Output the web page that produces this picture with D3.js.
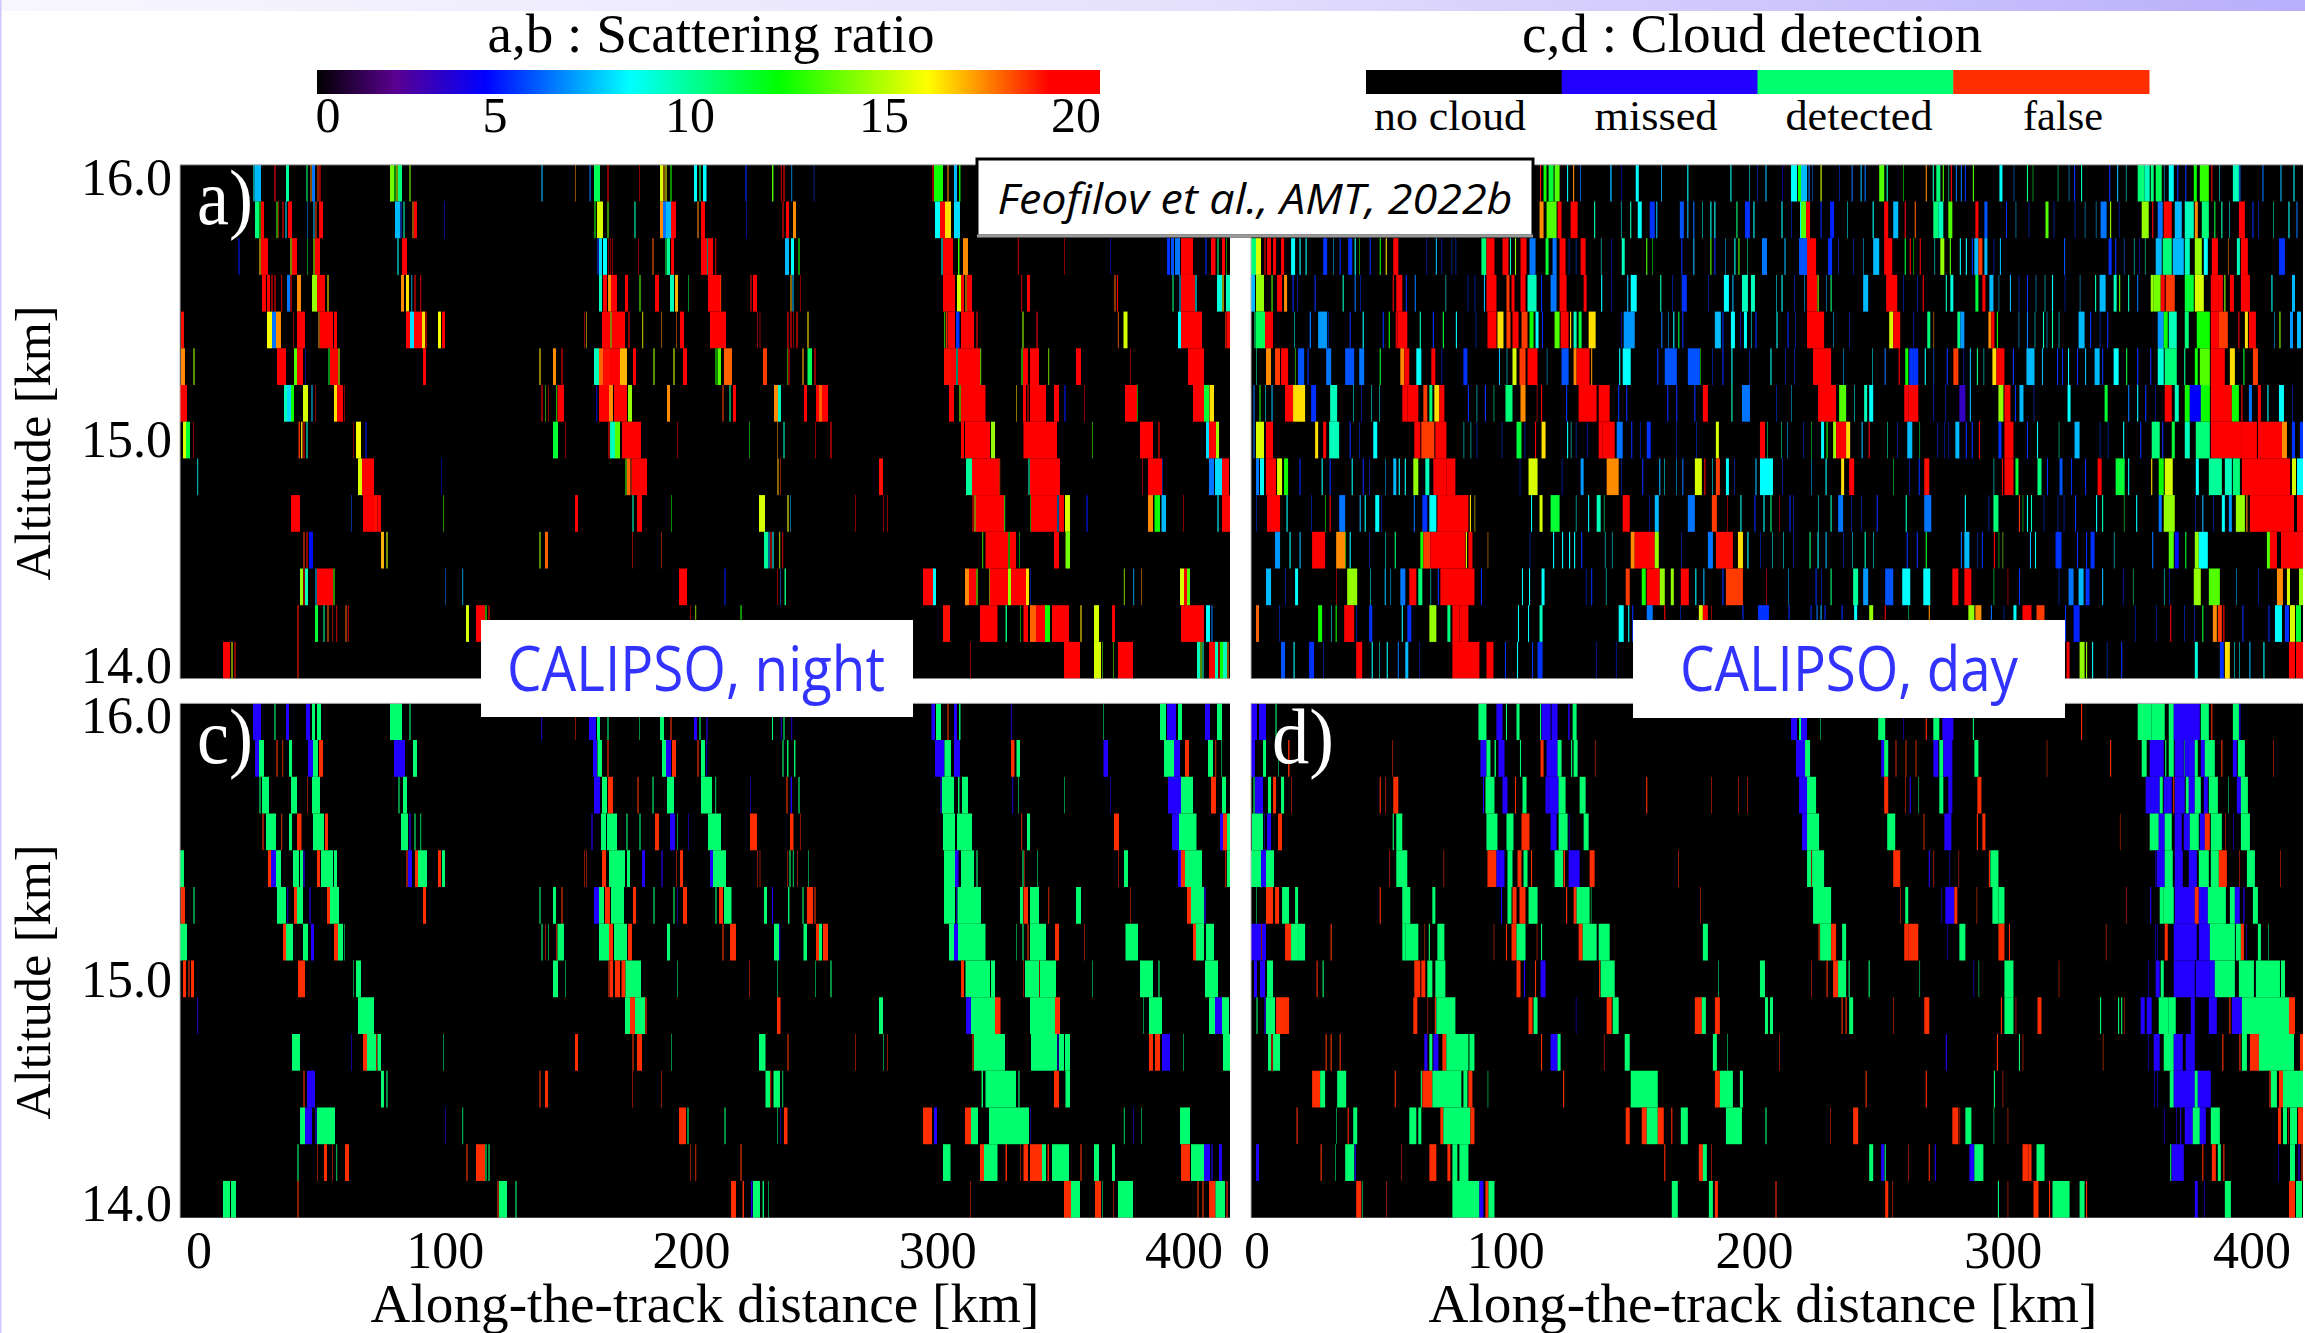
<!DOCTYPE html>
<html>
<head>
<meta charset="utf-8">
<script src="https://cdn.jsdelivr.net/npm/d3@7"></script>
<style>
  html, body { margin: 0; padding: 0; background: white; }
  svg { display: block; }
  text { font-family: "Liberation Serif", serif; fill: black; }
</style>
</head>
<body>
<svg id="chart"></svg>
<script>
const [WIDTH, HEIGHT] = [2305, 1333]

// each panel: 14 altitude rows (top = highest), each row a list of [fromProfile, toProfile, value]
// a,b values are scattering ratio, c,d values index detectionLabels
const panelA = [
  [[73,75,8],[75,81,7],[94,96,20],[106,109,9.5],[126,128,10],[130,132,17],[132,135,6],[137,139,18],[139,141,20],[210,214,13.5],[214,216,12],[216,218,15],[218,222,10],[229,231,13.5],[361,363,7],[395,396,17],[409,411,6],[414,420,10.5],[427,429,20],[459,460,20],[480,483,15],[483,485,17],[485,487,15],[490,492,12],[514,517,8],[519,521,10],[523,526.5,8],[565,567,5],[591.5,594,13],[600.5,602,20],[603,605,20],[611,612.5,6.5],[633.5,634.5,5],[752,754,20],[754,763,12],[767,769,17],[774,777,7],[778.5,781,12]],
  [[75,79,10],[79,81,12],[81,84,20],[96,98,13],[98,99,18],[102,104,20],[105,107,7.5],[108,112,20],[127,128,6],[133,135,7],[135,137,18],[139,143,20],[215,220,7],[220,222,5.5],[223,225,9],[232,234,17],[234,237,20],[264,265,4.5],[414,416,12],[417,423,15],[427,429,13],[454,456,9],[480,483,17],[483,486,6],[486,491,7],[491,496,20],[517,519,17],[521,525,20],[566,567,4.5],[602,604,20],[606,609,20],[613,616,17],[755,760,8],[760,765,19],[765,771,16],[774,780,7.5]],
  [[58,60,4.5],[79,81,16],[81,88,20],[110,112,15],[112,117,20],[127,128,11],[133,135,14],[135,140,19],[217,219,8],[222,227,20],[417,419,5],[419,422,7.5],[423,427,8],[428,429,20],[430,431,20],[432,433,20],[458,459,20],[472,474,17.5],[485,487,10.5],[487,490,9.5],[491,494,20],[521,527,20],[527,528,9],[528,533,20],[535,536.5,20],[605,609,7],[611,614,8],[618,620,12],[761,763,8],[763,773,20],[777.5,780,13],[783,788,17],[837.5,839,20],[884,885,20],[930,931,4.5],[987,990,5],[991,994,5.5],[995,1000,6],[1001,1013,20],[1025,1027,5],[1031,1035.5,20],[1037,1039,10],[1042,1045,19],[1046,1047,12]],
  [[82,86,20],[87,90,20],[91,93,20],[94,96,20],[101,102.5,20],[107,110,6],[110,112,20],[117,121,17],[132,137,14],[137,145,20],[147,149,16],[221,224,17],[226,229,16],[231,232.5,7],[234,236,20],[240,241.5,20],[419,422,9],[423,427,20],[428,431,17],[431,437,20],[445,448,20],[459,461,13],[475,479,20],[490,494,9],[495,498,16.5],[508,509,11],[528,541,20],[540,541.5,18],[570,572,20],[573,577,20],[610,612,16.5],[612,614,7],[620,621,20],[763,775,20],[777,781,15],[781,784,19],[785,787,16.5],[787,792,20],[841,842.5,20],[847,850,20],[934,936,17.5],[936.5,938.5,19],[992,994,10],[999,1001,7],[1001,1015,20],[1015,1017,8],[1037,1042,8.5],[1042,1044,15.5],[1046,1050,9]],
  [[1,4,18.5],[87,92,15.5],[92,96,6],[96,101,17],[113,114,20],[117,120,20],[120,125,20],[138,140,17],[140,153,20],[154,157,19],[226,230,20],[230,234,7.5],[234,242,20],[242,245,16],[245,247,20],[258,261,15.5],[262,265,20],[404,405,20],[406,407,16],[422,430,20],[430,432,16],[432,445,20],[448,450,20],[462,463.5,15.5],[481,482,17],[496,497,17.5],[500,504,20],[530,533,20],[533,546,20],[577,578,20],[579.5,580.5,20],[607,609,20],[610,612,20],[613,614,20],[616,618,20],[627,629,16],[764,765.5,13],[765.5,768,18],[768,775,20],[776,779.5,5],[781,794,20],[796,798,20],[842,844,14],[856,858,20],[937.5,939,17.5],[943.5,947.5,15],[998,1001,8],[1001,1022,20],[1045,1046.5,18],[1046.5,1050,20]],
  [[1,5,17],[13,15,14],[97,106,20],[114,117,13],[117,123,20],[125,126,4.5],[148,150,11],[150,158,20],[158,160,15],[243,246,20],[359,361,16],[373,376,17],[381,383,20],[414,419,9],[419,423,17.5],[423,430,18.5],[430,440,20],[440,447,16.5],[453,456,20],[473,475,14],[493,495,15],[503,507,20],[535,537,12],[537.5,541,13],[544,552,17.5],[583,587,18],[607,608,13],[608,610,20],[622,624,16.5],[627.5,632,10.5],[634,636,20],[764,771,18.5],[771,776,20],[776,778,9],[778,800,20],[800,801.5,14],[841,843,13],[843,848,20],[850,859,20],[868,869.5,14],[896,901,19],[950,951,20],[1008,1024,20]],
  [[0,7,20],[104,107,9],[107,111,7.5],[111,114,12],[123,128,15],[131,133,7],[135,136,20],[154,157,16],[157,163,20],[164,165,20],[361,363,20],[365,366,13],[368,369,20],[376,377.5,12],[377.5,384,19.5],[416,417.5,4.5],[419,429,20],[429,433,17],[434,447,20],[448,452,14],[487,490,17],[542,544,18],[549,551,9.5],[553,556,20],[594,598,17],[598,601,9],[624,627,20],[636,639,20],[639,642,17.5],[642,648,20],[769,774,20],[779,781,14],[781,805.5,20],[836,837,16],[843,846,20],[847,849,20],[850,866,20],[874,879,20],[884,886,4.5],[904,905,20],[945,957,20],[957,958,12],[1013,1024,20],[1024,1029,11],[1029.5,1034,16]],
  [[3,6,15],[6,10,11],[13,14,20],[118,120.5,18],[120.5,123,16],[123,125,19],[126,128,8.5],[173,174,20],[176,181,15.5],[185,187,4.5],[373,378,11],[385,386,20],[428,430,20],[430,435,9],[435,440,13],[442,455,20],[455,461,19.5],[497,498,20],[569,570,12],[597,598,17],[603,605,9],[635,636,20],[650,652,20],[781,784,20],[785,810,20],[811,815,14],[843,844,20],[844,877,20],[912,913,13],[960,973,20],[978,980,20],[1026,1029,7.5],[1029,1036,20],[1036,1039,14]],
  [[17,18.5,8],[178,182,15],[182,194,20],[261,262,4],[445,447,13],[447,450,17.5],[450,452,18],[452,467,20],[597,599,16.5],[600,601,18],[699,703,18.5],[786,792,9.5],[792,819,20],[819,820.5,18],[848,850,9],[850,880,20],[962,963,20],[968,982,20],[982,983,5],[1029,1034,6],[1035,1042,7.5],[1042,1049,20]],
  [[111,120,20],[171,172,5.5],[183,194,20],[194,197.5,18.5],[197.5,201,20],[263,264,13],[395,398,19.5],[452,454,9],[457,462,19],[491,492,12],[579,585,15],[607,609,15.5],[610,611,7],[675,676,20],[703,704,20],[707,708,20],[792,794,20],[794,796,16],[796,824,20],[824,825.5,13],[850,851,12],[851,877,20],[877,879,6.5],[879,884,20],[885,890,15],[906,908,4.5],[968,973,17],[974.5,980,12],[981.5,986,7],[1003,1004,20],[1037,1039,8],[1042,1050,20]],
  [[123,125,18],[126,128,20],[129,133,4.5],[201,204,16.5],[206,208,15],[359,361,14],[365,368,17.5],[452,453,18.5],[481,482,18],[584,588,9.5],[588,590,7],[590,592,19],[592,594,8],[599,600.5,15],[602,603.5,20],[802,803.5,13],[805.5,828,20],[828,830,13],[830,836,20],[839,840,12],[874,879,20],[885.5,890,13.5]],
  [[120,123,14],[123,125,20],[125,128,9],[135,137,7],[137,153,20],[153,155,13],[265,266,6],[282,283.5,7],[499,507,19],[544,546,4.5],[597,598,20],[600,601,6],[604,606.5,10],[743,753,20],[753,756,8],[785,789,17],[789,796,20],[796,798,14],[809,810,16],[810,828,20],[828,831,14],[831,846,20],[846,849,16],[850,851,5],[943.5,945,14],[953,954.5,7],[961,962,17],[1000,1004,15],[1004,1007,19],[1007,1010,13]],
  [[117,119,18.5],[135,138,11],[143,145,9.5],[147,149,17.5],[152,153,20],[156,157.5,20],[165,167,17.5],[167.5,169,20],[286,289,15],[296,305,20],[305,307,13],[308,310,20],[510,511,20],[515,516.5,14],[560,562,12],[763,770,18.5],[800,817.5,20],[825,827.5,10],[840,841,12],[843.5,848,20],[850,856,17.5],[856,866,19],[865,870,12],[872,889,20],[900,902,16],[914,919,15],[932,935,19],[1001,1024,20],[1026,1030,8],[1031,1033,6]],
  [[43,50,20],[51,53,15],[54,56,20],[117,119,18.5],[790,791,20],[884,900,20],[914,921,15],[922,923,13],[933,934,13],[938,953,20],[1017,1020,9],[1020,1022,14],[1022,1024,9],[1029,1035,20],[1035,1038,9],[1038,1040,19],[1040,1043,12],[1043,1047,9],[1047,1049,17]]
]

const panelB = [
  [[288,290,20],[292,295,12],[297,302,11],[303,308,13],[315,317,8],[321,323,17],[328,329.5,6],[358,360.5,7],[369,370,4.5],[384,387,8],[409,410.5,7],[435,437,8],[478,480,8],[497,498,8],[505,506,5],[513,515,7],[530,531,4.5],[539,545,8],[546,551,12],[549,555,7],[556,558,6],[560,561,6],[568,570,15],[587,588,5],[599,601,6],[608,610,7],[612,614,6],[627,632,13],[634,636,9],[651,652,12],[673,675,17],[680,682,9],[684,688,10],[690,692,13],[696,697,9],[698,700,20],[703,705,6],[708,710,6],[712,714,5],[720,722,13],[747,750,8],[761,762,6],[774,776,10],[780,781,11],[805,806,10],[816,817,7],[821,823,5],[828,830,9],[856,858,5],[864,866,7],[873,874,8],[885,892,10],[892,897,9],[898,901,10],[903,909,10.5],[911,912,7],[916,921,8],[924,926,5],[932,934,5],[941,944,12],[947,956,12.5],[958,960,20],[966,967,8],[980,986,9],[986,988,6],[1009,1011,6],[1027,1029,7],[1040,1042,8]],
  [[288,292,17],[295,305,13],[306,310,20],[319,326,19],[342,344,9],[369,370,8],[378,380,9],[386,390,8],[398,403,5],[404,406,7],[428,432,5.5],[435,437,7],[441,443,6],[450,451,8],[458,460,8],[462,464,8],[484,486,10],[493,498,5],[501,503,8],[529,531,8],[539,540,5],[548,553,8],[549,554,13],[554,558,20],[568,570,5],[578,582,4.8],[595,596,8],[620,622,8],[632,636,20],[641,646,7],[652,654,20],[662,664,17.5],[681,686,10],[686,691,9],[696,700,13],[723,726,20],[732,735,5.5],[753,755,5],[763,764,7],[776,777,5],[793,796,13],[801,802,5],[822,823,5],[832,833,7],[843,844,7],[848,854,6],[857,859,14],[866,867,5],[889,896,14],[899,901,20],[905,910,6],[911,919,20],[922,929,7],[932,941,9],[942,945,17],[949,956,10],[961,963,11],[968,970,9],[976,977,8],[986,992,19],[999,1001,5],[1005,1006,5],[1020,1021,9],[1035,1037,8],[1043,1045,6]],
  [[0,5,10],[5,10,15],[13,15,20],[16,20,20],[22,25,20],[30,33,20],[40,44,8],[48,50,8],[54,56,8],[72,76,5],[82,83,7],[88,90,5],[97,101,5],[103,105,8],[108,109,12],[118,120,5],[128,130,12],[134,136,16],[142,147,19],[175,176,5],[184,186,7],[190,191,5],[200,201,5],[204,205,5],[230,235,10],[235,243,20],[251,257,19],[258,260,9],[263,265,14],[269,275,19],[278,284,6],[294,297,11],[301,305,6],[308,314,20],[317,318,5],[324,325,5],[329,334,20],[349,350,8],[359,360,5],[370,373,9],[394,396,13],[400,401,12],[429,431,5],[441,443,7],[458,460,13],[462,464,5],[473,474,7],[482,484,8],[486,488,13],[495,496,9],[510,515,6],[532,534,7],[547,558,5.5],[555,564,20],[576,580,5],[586,587,5],[601,602,5],[611,612,7],[621,627,7],[632,640,20],[652,654,11],[657,659,19],[661,662,12],[667,669,20],[682,683,8],[688,692,14],[697,699,13],[707,709,8],[713,715,8],[719,721,5],[722,726,7],[726,730,18],[732,735,7],[741,742,5],[747,749,7],[811,813,5.5],[856,859,5],[862,864,5],[871,872,6],[881,882,8],[886,887,5],[892,893,9],[903,909,7],[910,919,10],[920,931,7],[932,937,9],[942,949,14],[951,955,8],[959,965,19],[975,976,17],[984,987,9],[988,995,20],[1026,1032,5]],
  [[0,4,7],[5,13,14],[20,22,13],[26,31,20],[33,36,17],[41,43,5],[46,47,5],[63,65,5],[91,93,9],[103,105,6],[109,110,5],[141,143,20],[145,151,20],[154,156,5],[163,165,6],[194,195,8],[216,217,5],[223,224,5],[232,234,7],[235,245,20],[255,258,18],[260,263,20],[269,274,20],[276,285,9],[289,291,5],[299,305,6],[308,315,20],[332,335,20],[349,351,8],[359,360,5],[375,377,7],[379,385,8],[408,410,9],[420,421,5],[430,435,5],[456,457,5],[472,477,8],[480,482,7],[490,496,9],[499,503,9],[524,525,8],[529,531,8],[542,543,5],[552,553,7],[555,565,20],[565,567,14],[574,575,7],[578,580,10],[611,616,7],[634,645,20],[651,652,5],[665,666,5],[670,672,20],[693,695,9],[698,701,8.5],[723,726,11],[730,733,20],[737,741,7],[746,747,7],[757,759,7],[766,767,5],[774,776,5],[783,784,7],[792,793,8],[799,801,8],[812,813,5],[827,828,7],[842,844,9],[847,853,7],[861,864,9],[866,868,13],[875,877,9],[884,886,6],[898,901,14],[901,908,13.5],[908,912,20],[913,922,18],[932,941,11],[942,951,15],[958,970,20],[971,973,14],[977,981,20],[988,997,19],[1018,1020,8],[1039,1042,7]],
  [[3,5,10],[5,14,10.5],[14,22,20],[43,44,8],[58,60.5,6],[67,76,6.5],[77,78,5],[98,100,5],[111,113,8],[131,133,5],[137,139,12],[144,146,20],[146,156,20],[168,170,9],[181,183,5],[191,193,11],[204,206,8],[224,225,5],[236,245,20],[246,252,16],[255,259,18],[261,267,20],[270,276,18],[278,282,12],[284,287,8],[290,292,5],[303,308,13],[309,317,19],[318,320,16],[322,325,9],[327,330,11],[337,344,16],[369,370,5],[372,383,6.5],[409,411,6],[416,417,7],[421,423,8],[426,428,11],[430,432,5],[463,469,7],[470,472,5],[479,483,8],[488,489,5],[492,495,8],[499,500,8],[503,505,5],[524,526,8],[535,537,5],[543,544,5],[555,572,20],[581,582,7],[597,598,5],[637,641,15],[641,648,20],[661,662,5],[675,678,10],[681,682,17],[705,708,10],[708,712,6.5],[736,739,17],[739,742,19],[744,746,12],[766,767,7],[774,776,6],[782,783,8],[790,792,9],[794,795,7],[799,801,9],[806,807,8],[826,832,7],[837,839,5],[847,848,5],[854,856,5],[905,911,6.5],[911,915,12],[916,924,9],[932,936,10],[944,957,12],[958,966,20],[966,975,18],[985,987,20],[992,995,16],[996,1003,20],[1021,1022,7],[1026,1028,14],[1037,1040,6.5],[1044,1048,7]],
  [[5,6,9],[15,20,17],[24,29,18],[30,37,19],[44,45,13],[47,53,5.5],[56,58,5],[75,80,6],[94,103,5.5],[108,113,6],[128,130,11],[149,153,17],[153,158,19],[165,170,8],[180,184,20],[190,191,5],[212,216,5],[247,249,7],[255,256,8],[261,265,15],[268,274,18],[276,286,19],[295,296,7],[310,317,5.5],[322,325,17],[325,338,20],[339,341,17],[367,369,8],[371,379,8],[405,407,5],[413,425,5.5],[436,448,5.5],[448,449,12],[460,461,5],[470,472,5],[479,481,8],[497,498,5],[518,520,8],[533,534,5],[542,543,5],[561,579,20],[591,592,7],[620,621,8],[632,634,6],[646,648,20],[653,656,12],[657,666,5],[672,674,8],[681,682,6],[694,696,5],[701,706,18],[711,712,5],[717,719,7],[724,726,10],[731,732,8],[740,744,16],[744,752,20],[760,762,5],[774,782,7],[789,791,7],[804,806,5],[809,811,5],[815,817,8],[824,826,5],[832,834,7],[842,847,7],[849,851,5],[861,866,8],[873,875,11],[884,886,5],[897,899,5],[905,911,8.5],[912,924,10],[931,933,9.5],[942,945,12],[947,957,13],[958,972,20],[977,982,16],[990,992,11],[1000,1005,18]],
  [[2,4,6],[8,10,12],[14,15,8],[20,22,7],[34,42,20],[42,54,16],[60,65,5],[79,86,9],[102,103,8],[110,111,5],[120,121,8],[128,129,8],[151,156,19],[156,167,20],[172,176,18],[178,181,10],[183,188,16],[188,193,20],[216,218,5],[225,226,8],[233,235,5],[242,243,9],[254,261,10],[269,274,17],[285,286,20],[289,291,20],[314,316,5],[327,345,20],[347,358,19],[366,368,5],[374,376,5],[415,417,5],[424,426,5],[442,444,5],[451,456,20],[479,481,9],[490,498,6],[524,525,5],[539,540,7],[566,584,20],[587,594,13],[602,603,8],[612,615,9],[617,621,8],[652,656,20],[656,666,20],[681,682,5],[693,694,5],[707,713,3],[717,719,7],[746,751,14],[752,758,20],[762,764,5],[767,771,7],[781,782,5],[815,818,8],[852,855,11],[875,877,6],[884,886,8],[892,894,5],[902,903,5],[912,919,19],[922,926,9],[932,937,12],[937,948,4.2],[948,957,12],[958,979,20],[979,986,12],[988,990,20],[996,999,6],[1005,1008,20],[1014,1016,8],[1026,1031,8],[1039,1040,5]],
  [[2,4,6],[5,13,15],[15,22,20],[64,67,16],[72,75,19],[78,88,9],[98,100,5],[108,109,5],[122,126,8],[163,169,20],[170,183,18],[184,195,20],[212,213,8],[219,220,8],[225,226,5],[250,251,5],[265,270,11],[273,274,5],[283,285,20],[290,294,16],[315,317,8],[319,320,8],[324,325,5],[335,336,5],[347,351,20],[351,363,20],[365,371,6],[379,381,5],[388,389,5],[395,399,5],[424,425,5],[444,445,5],[464,467,15],[508,513,19],[515,516,10],[529,530,9],[535,536,7],[551,552,5],[559,560,11],[569,572,8],[574,576,12],[581,584,14],[584,594,20],[594,598,16],[609,611,7],[616,618,19],[635,636,9],[645,646,5],[655,660,7],[667,668,11],[685,686,5],[692,693,5],[696,697,5],[703,707,7],[713,715,5],[719,721,5],[726,728,20],[746,749,5],[752,761,19],[774,776,5],[784,786,8],[806,807,9],[822,827,7],[847,848,5],[855,856,5],[870,872,8],[887,889,5],[899,907,10],[909,911,5],[919,922,11],[932,937,9],[943,957,10],[958,989,20],[989,1004,20],[1005,1029,20],[1029,1034,17],[1039,1042,5],[1047,1050,5]],
  [[5,8,6],[9,13,8],[15,25,20],[26,31,15],[33,37,12],[48,50,5],[70,72,8],[78,80,5],[100,102,8],[111,113,5],[118,119,5],[134,135,7],[142,145,7],[147,149,8],[153,155,8],[162,167,14],[174,178,9],[182,195,20],[195,204,19],[268,269,5],[277,286,15],[310,311,5],[329,332,6.5],[355,367,17],[369,370,5],[390,392,5],[407,409,7],[412,413,8],[424,425,7],[430,432,6],[443,450,15],[452,454,19],[460,461,8],[464,468,18],[474,477,8],[482,483,5],[503,505,7],[508,521,8],[530,531,5],[559,560,7],[573,575,8],[589,592,16],[597,602,20],[641,642,11],[657,658,5],[666,668,5],[672,677,18.5],[741,742,8],[749,751,20],[752,761,20],[763,766,11],[785,789,10],[794,796,5],[807,810,5.5],[818,820,5],[832,834,5],[845,849,19],[863,872,11],[875,877,8],[898,900,16],[906,911,12],[912,920,15],[943,946,8],[956,969,9.5],[972,979,9],[980,987,10],[989,1037,20],[1039,1043,15],[1044,1050,8]],
  [[5,6,5],[16,29,19],[35,37,8],[60,61,5],[74,75,12],[78,80,20],[88,94,6],[108,110,7],[113,115,8],[124,128,8],[130,131,5],[162,164,6],[171,176,5],[178,185,8],[186,217,20],[218,220,16],[223,224,16],[279,281,8],[288,291,15],[299,308,11],[324,325,8],[336,338,8],[345,349,9],[352,353,10],[371,378,20],[397,398,5],[403,407,7],[436,443,6],[460,465,18],[475,476,19],[488,490,8],[502,504,5],[511,513,8],[518,520,10],[527,528,20],[537,539,5],[541,542,5],[566,567,8],[578,580,9],[586,591,6],[599,600,5],[609,610,5],[624,626,5],[653,655,9],[672,679,6],[712,714,8],[736,737,5],[741,746,10],[766,768,18],[770,771,11],[774,776,8],[778,780,9],[791,792,5],[805,806,5],[811,812,5],[822,824,5],[843,845,8],[849,851,9],[871,872,11],[883,885,8],[906,909,6],[911,922,14],[942,943,5],[949,951,7],[960,961,5],[969,972,8],[976,979,6.5],[983,992,14],[993,995,17],[997,1041,20],[1044,1050,19]],
  [[24,29,6.5],[38,40,8],[48,50,7],[61,74,19],[85,94,17],[94,95,13],[98,100,8],[118,119,5],[134,135,8],[143,145,10],[169,172,12],[172,179,18],[179,214,20],[214,216,15],[217,221,20],[236,237,17],[278,279,5],[301,303,8],[310,312,8],[317,319,8],[322,324,8],[329,331,5],[353,354,8],[360,361,8],[379,383,17],[383,403,20],[403,407,14],[429,430,5],[456,461,6],[464,481,18.5],[486,491,16],[495,497,8],[508,509,5],[520,521,8],[531,532,8],[541,542,5],[557,559,10],[565,567,8],[573,575,7],[591,592,5],[600,601,8],[612,614,9],[621,622,8],[654,656,5],[664,666,5],[673,675,11],[708,710,6],[712,717,7],[725,726,5],[729,731,5],[741,743,20],[746,747,11],[750,751,14],[777,779,7],[782,784,8],[803,809,5],[824,826,5],[833,835,5],[838,842,5],[861,862,8],[899,901,6],[916,921,13],[922,926,4.5],[932,934,11],[942,946,14],[946,955,8],[1014,1017,13],[1017,1024,19],[1028,1050,20]],
  [[15,20,7],[34,35,5],[44,47,8],[85,86,20],[96,106,14],[119,120,8],[133,135,7],[139,140,7],[149,154,6],[158,165,20],[167,171,10],[179,180,8],[186,188,5],[189,223,20],[229,231,5],[270,272,8],[277,279,8],[290,293,8],[334,335,5],[339,341,5],[354,355,8],[374,378,18],[390,394,12],[395,408,20],[408,413,14],[419,422,14],[429,437,19],[443,445,8],[451,453,7],[470,472,5],[474,491,18],[514,515,20],[536,537,7],[563,565,5],[569,570,5],[578,580,10],[601,606,9.5],[611,616,6.5],[633,641,5.5],[650,658,8],[671,678,8],[700,706,20],[712,719,20],[741,742,11],[755,756,20],[766,768,5],[806,807,5],[816,821,6],[826,831,7],[833,837,5],[849,851,7],[870,871,5],[880,881,10],[911,912,8],[916,917,5],[941,948,14],[956,967,13],[983,984,7],[1005,1006,5],[1024,1030,17],[1034,1037,15],[1046,1050,14]],
  [[5,8,17.5],[28,29,5],[67,71,12],[80,81,8],[84,86,12],[93,103,20],[105,106,5],[118,121,5],[150,152,8],[156,160,5],[178,185,14],[196,199,10],[201,208,20],[208,217,19],[266,268,8],[276,278,8],[288,291,9],[367,372,8],[376,378,8],[380,382,5],[395,401,6],[412,414,20],[428,429,5],[447,451,15],[451,456,20],[459,460,20],[490,492,5],[506,517,5],[536,538,5],[558,560,5],[564,566,6],[568,570,7],[572,574,5],[589,591,5],[602,605,8],[617,621,14],[632,634,20],[656,657,10],[676,678,17],[716,722,14],[723,729,17],[738,740,6],[751,752,5],[761,764,8],[770,779,19],[784,792,18],[812,814,5],[821,827,4.8],[882,883,5],[903,904,5],[917,919,20],[931,932,5],[941,942,5],[949,951,11],[960,964,17],[965,969,18],[970,972,20],[989,991,5],[1015,1017,5],[1022,1029,8],[1032,1036,5],[1037,1042,15],[1043,1048,11]],
  [[30,34,5.5],[42,44,8],[58,63,5],[72,73,5],[105,111,19],[120,122,8],[128,129,8],[135,137,8],[146,148,6],[154,157,7],[168,169,5],[201,228,20],[235,242,19],[253,255,5],[265,267,8],[280,282,5],[286,291,5],[344,345,5],[364,365,5],[814,817,20],[827,832,14],[833,835,14],[839,841,8],[854,855,5],[868,870,5],[942,945,8.5],[967,971,5],[972,977,16],[981,982,8],[986,987,8],[996,998,7],[1010,1012,8],[1036,1042,19],[1043,1050,20]]
]

const panelC = [
  [[73,81,1],[94,96,2],[106,109,1],[126,130,1],[132,135,2],[137,141,2],[210,222,2],[229,231,2],[361,362.5,1],[395,396,3],[409,416,1],[417,420,2],[427,429,2],[459,460,2],[480,484,2],[490,492,3],[514,517,1],[519,521,2],[526,528,1],[591.5,593.5,2],[600.5,602,1],[603,605,2],[611,612.5,1],[751.5,755,1],[756,761,2],[767,769,3],[774,777,1],[778.5,781,2],[830.5,832,1],[923,924,2],[980,986,2],[987,996,1],[998,1002,2],[1025,1030,1],[1037,1042,2]],
  [[75,79,1],[79,84,2],[96,98,3],[102,103.5,3],[109,112,2],[128,133,1],[133,138,2],[139,143,3],[214,225,1],[233,237,2],[413,417,1],[417.5,422,2],[427,429,3],[482,486,2],[486,491,1],[492,496,3],[517,519,3],[521,525,2],[526,527.5,1],[602,604,2],[606.5,609,2],[613.5,616,2],[755,764.5,1],[764.5,771,2],[774,780,1],[831,834.5,3],[836.5,840,2],[923.5,928,1],[984,994,2],[994,1000,1],[1005,1009,3],[1028,1033,2],[1035,1036.5,3],[1041,1042,2]],
  [[79,81,2],[82,89,2],[111,117,2],[127,128,3],[132,140,2],[218,220,2],[223,227,2],[414,420,1],[422,427,2],[428,433,3],[457,459,3],[472,474,2],[487,494,2],[521,532,2],[535,536.5,2],[570,571,1],[606,608,3],[610,612.5,1],[618,620,2],[760,762,1],[762,774,2],[777.5,780,2],[782,788,2],[832,833.5,1],[838,839,2],[884,885,2],[930,931,1],[988,1001,1],[1001,1013,2],[1031,1036,3],[1042,1046,2]],
  [[82,84,3],[86,96,2],[101,102.5,3],[109,112,2],[117,121.5,3],[133,144,2],[145,148,3],[221,228,2],[229,231,1],[234,236,2],[240,241.5,2],[411,413,1],[421,426,2],[427,437,2],[446,448,2],[459,461,2],[475,479,3],[490,495,1],[497,498,2],[508,509,1],[528,541,2],[570,577,3],[610,613.5,3],[620,621,3],[763,775,2],[777,780,2],[780,792,2],[841,842.5,3],[847,850,2],[934,939,3],[992,999,1],[999,1016.5,2],[1040,1043,1],[1043,1047,3],[1047,1050,2]],
  [[0,4,2],[88,91,3],[91,96,1],[96,101,2],[113,119,2],[120,123,2],[123,125,1],[137,140,3],[141,153,2],[154,157,2],[226,228,3],[228,232,1],[235,238,3],[238,247,2],[258,261,3],[262,265,2],[404,405,3],[406,407,3],[422,426,3],[429,445,2],[447,450,2],[462,465,1],[481,483,1],[496,497,3],[500,503,3],[530,533,1],[533,546,2],[577,578,3],[579.5,580.5,3],[607,608,3],[609,611,2],[612.5,614,2],[617,618,3],[628,629,2],[764,775,2],[775,778.5,1],[781,794,2],[796,798,2],[842,844,2],[844,845,3],[857,858,2],[938,939,3],[944,948,2],[998,1001,1],[1001,1005,3],[1005,1022,2],[1045,1046.5,3],[1047,1050,2]],
  [[1,5,3],[13,15,2],[97,106,2],[107,108.5,1],[114,117,3],[117,123,2],[129,131,1],[147,150,3],[150,159,2],[243,246,3],[359,361,2],[373,376,2],[381,383,3],[414,419,1],[419,424,2],[425,430,3],[431,444,2],[453,456,3],[473,475,2],[493,495,2],[497,498,1],[503,507,3],[535,537,2],[539,543,3],[544,551.5,2],[584,587,2],[591.5,593.5,1],[607.5,610,2],[622,624,2],[627,633,3],[634,636,3],[764,775,2],[776,777.5,1],[777.5,801,2],[840,843,2],[843.5,848,3],[850,859,2],[868,869.5,3],[896,901,2],[950,951,3],[1007,1011,3],[1011,1024,2],[1024,1026,1]],
  [[0,7,2],[103,106,3],[106,113,2],[123,128,2],[131,134,1],[154,158,3],[158,163,2],[164,165,2],[361,363,2],[365,366,3],[368,369,2],[376,377.5,3],[377.5,384,2],[419,429,2],[429,433,3],[434,447,2],[448,452,3],[487,490,2],[542,544,3],[550,556,3],[594,599,2],[599,600.5,1],[623.5,627,2],[636,639,3],[639,642,2],[643,648,3],[769,774,2],[774,778,1],[778,805.5,2],[836,837,2],[842,844,2],[847,849,3],[850,866,2],[875,879,3],[904,905,3],[945.5,958,2],[1013,1016,3],[1016,1024,2],[1026,1034,2]],
  [[3,6,3],[8,10,3],[11,14,3],[118,125,3],[173,174,2],[176,181,2],[373,378,2],[385,386,2],[428,430,3],[430,433,3],[435,440,3],[441.5,445.5,3],[445.5,461,2],[497,498,2],[569,570,3],[597,598,2],[635,636,2],[650,652,2],[781,784,3],[785.5,810,2],[811,815,2],[843,844,3],[845,859,2],[859,860,3],[860,876,2],[912,913,2],[960,973,2],[978,980,2],[1025,1038,2]],
  [[17,18.5,1],[178,194,2],[445,450,2],[450,455,3],[455,465,2],[465,467,3],[597,600.5,3],[699,703,2],[786,791,1],[791,815,2],[815,820.5,3],[850,875,2],[875,880,3],[963,964,2],[969,982,2],[1029,1035,2],[1035,1042,1],[1042,1049,2]],
  [[112,120,2],[171,172,1],[183,187,3],[187,196,2],[196,197.5,3],[197.5,201,2],[263,264,2],[395,398,3],[452,454,3],[457,462,3],[491,492,2],[579,585.5,2],[607,609,3],[675,676,3],[703,704,2],[707,708,3],[792,794,3],[794,825,2],[851,877,2],[877,879,1],[879,884,2],[885,890,2],[969,973,3],[975,980,3],[982,990,1],[1003,1004,2],[1043,1050,2]],
  [[123,125,3],[127,135,1],[201,204,2],[206,208,2],[359,361,3],[365,368,3],[452,453,3],[481,482,3],[585.5,590,2],[590,591.5,3],[593.5,600,2],[602,603.5,2],[801,803.5,2],[805.5,836,2],[838,840,2],[874,879,3],[885.5,890,2]],
  [[120,125,2],[125,132,1],[135,137,1],[137,155,2],[265,266,1],[282,283.5,2],[499,506,3],[507,509,2],[544,546,2],[597,598,2],[600,601,1],[604,607.5,3],[743,752,3],[754,757,1],[785,791,3],[791,798,2],[809,847,2],[846,849,2],[850,851,1],[943.5,945,2],[953,954,1],[961,962,2],[1000,1010,2]],
  [[117,119,2],[137,138,3],[144,147,3],[152,153,3],[156,157.5,2],[165,169,3],[286,288,3],[296,305,3],[305,307,2],[308,310,2],[510,511,3],[515,516.5,3],[560,562,3],[763,770.5,2],[800,804,3],[804,817.5,2],[825,827.5,3],[840,841,3],[843.5,848,3],[850,862,3],[862,866,2],[867,869.5,3],[872,889,2],[900,902,3],[914,919,2],[932,935,2],[1001,1010,3],[1011,1024,2],[1024,1030,1],[1031,1033,1],[1039,1042,1]],
  [[43,50,2],[51,56,2],[117,119,3],[317,319,3],[319,327,2],[335,337,2],[551,556,3],[562,564.5,3],[570.5,573,1],[573,580,2],[582,584.5,2],[588,589,2],[790,791,3],[884,891,3],[891,900,2],[915,921,3],[922,923,2],[933,934,3],[938,953,2],[1017,1019,3],[1022,1024,3],[1029,1035.5,3],[1035.5,1045,2],[1046,1048,3]]
]

const panelD = [
  [[0,6,1],[8,15,1],[24,26,2],[227,235,2],[245,251,1],[254,256,2],[265,268,2],[288,290,2],[290,299,1],[300,306,1],[316,318.5,1],[321,325,2],[539,545,1],[547,551,2],[549,555,1],[568,569,2],[626,633,2],[651,652,1],[673,675,3],[681,687,2],[690,701,1],[720,722,2],[828,830,3],[885,899,2],[899,912,2],[916,921,2],[921,947,1],[948,956,2],[958,960,3],[980,986,2],[986,988,1]],
  [[0,4,1],[12,15,2],[27,28,2],[36.5,39,3],[141,142,3],[229,235,1],[235,239,2],[242.5,245,2],[247,253,1],[268,270,2],[289,292,3],[295,306,1],[306,310,2],[319,321,2],[322,326,2],[343,344,3],[544,553,1],[553,558,2],[629,632,1],[632,636,2],[643,644.5,3],[653,654.5,3],[663,664.5,3],[681,686,1],[687,691,2],[691,700,1],[722,726,2],[794,795,3],[857,859,3],[889,894,2],[897,911,1],[912,914,2],[916,921,2],[922,931,1],[931,932,2],[932,942,1],[942,945,2],[948,952,1],[952,962,2],[968,970,3],[980,984,1],[985,992,2],[1020,1021,3]],
  [[2,4,2],[4,12,1],[17,20,2],[22,25,3],[30,33,2],[40,41,3],[128,130,3],[134,135,3],[142,147,3],[231,233,1],[234,243,2],[251,256,1],[263,265,3],[271,275,2],[294,297,1],[297,307,1],[307,314,2],[328,334,2],[394,396,3],[459,460,3],[486,487,3],[495,496,3],[547,557,1],[555,564,2],[632,636,3],[653,654,3],[657,659,1],[666,667,2],[687,691,2],[696,700,1],[725,729,3],[893,907,1],[907,910,2],[911,919,1],[920,922,3],[922,932,1],[933,936,2],[936,942,1],[942,948,2],[951,955,1],[956,965,2],[975,976,2],[984,988,1],[988,995,2]],
  [[1,12,2],[13,14,1],[16,20,1],[27,31,3],[141,143,2],[145,151,2],[235,246,2],[255,262,2],[270,278,3],[299,305,1],[307,316,2],[317,318,1],[332,337,2],[550,555,1],[555,567,2],[635,643,2],[671,672.5,3],[692,699,1],[724,726,3],[730,733,3],[867,868,3],[897,906,2],[906,912,1],[912,919,2],[922,929,1],[931,937,1],[937,946,2],[947,952,1],[952,957,3],[958,969,2],[972,973,3],[980,981,1],[988,997,2]],
  [[0,10,2],[10,15,1],[15,23,2],[138,139,3],[145,156,2],[192,193,3],[236,245,3],[245,253,1],[256,261,2],[266,270,3],[272,276,2],[279,281,3],[303,311.5,2],[311.5,314,3],[317,328,1],[338,343,3],[426,427,3],[555,559,2],[559,560,3],[560,572,2],[641,648,3],[676,678,1],[681,682,3],[697,698,1],[706,707,3],[736,738,3],[738,746,2],[902,903,1],[904,912,1],[912,920,2],[922,930,1],[936,944,1],[946,956,2],[958,966,2],[966,974,3],[986,987,3],[994,1002,2],[1027,1028,3]],
  [[5,6,2],[15,22,3],[24,28,3],[31,38,2],[44,47,2],[128,130,3],[151,159,2],[181,184,2],[249,251,1],[256,260,2],[261,265,3],[268,274,3],[277,286,2],[314,316,3],[322,325,3],[325,338,2],[339,340,2],[448,449,3],[561,579,2],[648,649,3],[653,656,2],[689,690,1],[693,702,1],[702,705,3],[724,725,3],[740,746,2],[746,752,2],[873,874,3],[897,899,1],[907,911,2],[911,921,2],[922,942,1],[942,946,3],[946,955,1],[955,973,2],[977,982,2],[982,987,1],[990,992,1],[1000,1005,2]],
  [[0,10,1],[10,11,3],[11,15,1],[34,40,3],[40,47,2],[47,54,2],[79,81,3],[151,154,2],[154,167,2],[173,174,3],[177,179,2],[186,193,2],[242,243,3],[254,256,3],[260,265,3],[265,274,2],[285,286,3],[289,291,2],[327,331,3],[331,345,2],[347,358,2],[451,456,2],[566,568,3],[568,579,2],[579,584,3],[590,594,2],[652,656,3],[656,666,3],[695,696,1],[707,713,2],[746,752,3],[756,758,3],[853,854,3],[902,903,1],[904,905,1],[912,915,3],[921,944,1],[946,957,1],[957,982,2],[983,988,2],[988,991,3],[993,994,1],[1005,1008,2],[1015,1016,2]],
  [[3,6,1],[9,14,1],[16,22,2],[65,67,3],[71,73,2],[163,169,3],[170,174,3],[176,181,2],[184,194,2],[265,269,3],[272,274,1],[283,285,3],[289,294,1],[347,349,3],[349,363,2],[466,467,2],[508,513,2],[559,560,3],[574,576,3],[581,586,3],[586,594,2],[596,598,2],[616,618,2],[667,668,2],[721,722,1],[726,727,2],[752,761,2],[806,807,3],[895,896,1],[903,907,1],[908,911,2],[921,942,1],[943,962,1],[962,982,2],[986,1001,2],[1003,1027,2],[1028,1032,2]],
  [[5,7,2],[13,15,1],[15,24,2],[25,35,3],[35,38,3],[162,166,3],[176,177,3],[183,185,3],[185,204,2],[277,281,3],[282,286,2],[324,325,1],[355,360,3],[361,367,2],[443,450,3],[450,454,2],[463,468,3],[513,516,2],[518,521,2],[589,591,3],[593,595,3],[597,601,2],[641,642,3],[672,677,3],[748,750,3],[752,761,2],[763,764,3],[785,789,3],[847,849,2],[865,867,2],[868,870,2],[871,872,3],[888,892,1],[894,899,1],[906,916,2],[916,923,2],[938,942,1],[956,964,1],[976,978,3],[979,989,1],[989,1036,2],[1036,1042,3]],
  [[17,20,2],[20,22,3],[22,29,2],[74,76,3],[79,81,3],[88,90,3],[173,176,1],[178,181,2],[182,187,1],[191,195,3],[195,217,2],[218,223,2],[289,291,3],[299,306,1],[306,309,2],[352,353,3],[373,378,2],[461,465,2],[475,476,2],[527,528,3],[693,695,1],[744,746,3],[766,768,2],[770,771,3],[850,851,3],[895,896,1],[901,907,1],[911,921,2],[921,930,1],[933,942,1],[969,971,3],[986,988,3],[989,994,2],[997,1006,3],[1006,1041,2],[1047,1050,3]],
  [[61,69,3],[69,74,2],[86,95,2],[143,145,3],[169,171,2],[171,181,3],[181,210,2],[212,216,2],[217,221,3],[236,237,2],[311,313,3],[379,406,2],[463,468,3],[468,481,2],[488,491,2],[613,615,3],[673,675,3],[741,743,2],[750,751,3],[901,902,1],[904,905,1],[917,921,2],[921,942,1],[942,945,2],[945,958,1],[1016,1018,3],[1018,1024,2],[1026,1030,3],[1030,1050,2]],
  [[45,47,3],[85,86,2],[96,98,3],[102,106,2],[158,165,2],[167,170,2],[189,192,3],[192,219,2],[219,223,3],[374,378,3],[390,395,3],[395,406,2],[406,412,3],[419,421,3],[429,436,2],[474,490,2],[513,515,2],[578,579,3],[601,606,3],[700,706,3],[707,708,3],[713,719,2],[741,742,2],[755,756,3],[911,912,1],[923,924,1],[927,929,1],[932,940,1],[940,947,2],[947,953,1],[958,967,2],[1025,1028,3],[1030,1034,2],[1035,1036,3],[1037,1044,2],[1045,1050,3]],
  [[5,8,1],[69,71,3],[84,85,2],[94,103,2],[103,105,1],[150,151,3],[178,185,3],[196,199,3],[201,206,2],[208,217,2],[412,414,3],[447,451,3],[451,455,2],[459,460,3],[617,621,2],[629,632,1],[632,634,2],[656,657,3],[676,678,3],[682,684,1],[717,722,1],[722,731,2],[770,776,3],[776,779,3],[784,792,2],[917,919,2],[919,931,1],[949,951,3],[959,963,3],[965,968,2],[970,972,3],[1025,1026,1],[1037,1042,2],[1045,1047,1],[1048,1050,3]],
  [[105,110,3],[111,112,2],[135,136,3],[201,228,2],[228,232,1],[234,237,3],[237,243,2],[420,426,2],[457,461,2],[463,466,3],[523,525,3],[633,636,3],[640,641,3],[745,747,2],[755,756,3],[781,786,3],[796,798,3],[800,817,2],[827,832,2],[833,835,3],[942,945,1],[951,952,1],[972,978,2],[1036,1042,3],[1043,1049,2]]
]

const ratioStops = [0, 2, 4.3, 8, 11.8, 15.6, 18.7, 20]
const ratioColors = ['#000000', '#5a0090', '#0000ff', '#00ffff', '#00ff00', '#ffff00', '#ff0000', '#ff0000']
const ratioTicks = [0, 5, 10, 15, 20]
const detectionLabels = ['no cloud', 'missed', 'detected', 'false']
const detectionColors = ['#000000', '#2200ff', '#00ff6e', '#ff2f00']
const distanceTicks = [0, 100, 200, 300, 400]
const altitudeTicks = [16, 15, 14]

const ratioColor = d3.scaleLinear().domain(ratioStops).range(ratioColors).clamp(true)
const detectionColor = d3.scaleOrdinal().domain([0, 1, 2, 3]).range(detectionColors)

const svg = d3.select('#chart')
  .attr('viewBox', '0 0 ' + WIDTH + ' ' + HEIGHT)
  .attr('width', WIDTH)
  .attr('height', HEIGHT)

const defs = svg.append('defs')

// top slide band
const band = defs.append('linearGradient').attr('id', 'band')
band.append('stop').attr('offset', 0).attr('stop-color', '#f8f7fe')
band.append('stop').attr('offset', 0.5).attr('stop-color', '#e6e2fd')
band.append('stop').attr('offset', 1).attr('stop-color', '#b9aefb')
svg.append('rect').attr('width', WIDTH).attr('height', 11).attr('fill', 'url(#band)')
svg.append('rect').attr('width', 1.5).attr('height', HEIGHT).attr('fill', '#cfc8fd')

// the source image is a resampled bitmap, so thin columns fade out
const blur = defs.append('filter').attr('id', 'soft')
  .attr('x', '-2%').attr('y', '-2%').attr('width', '104%').attr('height', '104%')
blur.append('feGaussianBlur').attr('stdDeviation', '0.75 0.35')

const THIN = 2.6

function drawPanel(name, rows, color, left, right, top, bottom) {
  const x = d3.scaleLinear().domain([0, 1050]).range([left, right])
  const y = d3.scaleBand().domain(d3.range(14)).range([top, bottom])

  defs.append('clipPath').attr('id', 'clip-' + name)
    .append('rect').attr('x', left).attr('y', top).attr('width', right - left).attr('height', bottom - top)

  const g = svg.append('g').attr('clip-path', 'url(#clip-' + name + ')')
    .append('g').attr('filter', 'url(#soft)')

  g.append('rect')
    .attr('x', left - 10).attr('y', top - 10)
    .attr('width', right - left + 20).attr('height', bottom - top + 20)
    .attr('fill', 'black')

  // columns read as 1-2 profiles wide are drawn narrower, they are smeared in the picture
  const drawnWidth = d => {
    const w = x(d[1]) - x(d[0])
    return w <= THIN ? w * 0.55 : w
  }

  g.selectAll('g.row')
    .data(rows)
    .join('g')
    .attr('class', 'row')
    .attr('transform', (_, i) => 'translate(0,' + y(i) + ')')
    .selectAll('rect')
    .data(r => r)
    .join('rect')
    .attr('x', d => (x(d[0]) + x(d[1]) - drawnWidth(d)) / 2)
    .attr('width', drawnWidth)
    .attr('height', y.bandwidth())
    .attr('fill', d => color(d[2]))

  svg.append('path')
    .attr('d', 'M' + left + ',' + bottom + 'V' + top + 'H' + right)
    .attr('fill', 'none').attr('stroke', '#b5b5b5').attr('stroke-width', 1)
}

const Y_TOP = [164.8, 703.3]
const Y_BOT = [678.6, 1217.7]
drawPanel('a', panelA, ratioColor, 180, 1230, Y_TOP[0], Y_BOT[0])
drawPanel('b', panelB, ratioColor, 1251, 2303, Y_TOP[0], Y_BOT[0])
drawPanel('c', panelC, detectionColor, 180, 1230, Y_TOP[1], Y_BOT[1])
drawPanel('d', panelD, detectionColor, 1251, 2303, Y_TOP[1], Y_BOT[1])

function label(str, x, y, size, anchor, fit) {
  const t = svg.append('text')
    .attr('x', x).attr('y', y)
    .attr('font-size', size)
    .attr('text-anchor', anchor || 'middle')
    .text(str)
  if (fit) t.attr('textLength', fit).attr('lengthAdjust', 'spacingAndGlyphs')
  return t
}

// panel letters
label('a)', 197, 224, 78, 'start', 56).style('fill', 'white')
label('c)', 197, 763, 78, 'start', 56).style('fill', 'white')
label('d)', 1272, 763, 78, 'start', 62).style('fill', 'white')

// overlays from the slide
function whiteBox(x0, x1, y0, y1) {
  return svg.append('rect').attr('x', x0).attr('y', y0)
    .attr('width', x1 - x0).attr('height', y1 - y0).attr('fill', 'white')
}
whiteBox(481, 913, 620, 717)
whiteBox(1633, 2065, 620, 718)
whiteBox(977, 1533, 159, 236).attr('stroke', 'black').attr('stroke-width', 3)
svg.append('line').attr('x1', 977).attr('x2', 1533).attr('y1', 236).attr('y2', 236)
  .attr('stroke', '#9a9a9a').attr('stroke-width', 3)

label('CALIPSO, night', 696, 691, 62, 'middle', 378)
  .style('fill', '#3333ff').style('font-family', '"Open Sans"')
label('CALIPSO, day', 1849, 691, 62, 'middle', 338)
  .style('fill', '#3333ff').style('font-family', '"Open Sans"')
label('Feofilov et al., AMT, 2022b', 1255, 214, 42, 'middle', 515)
  .style('font-family', '"Open Sans"').style('font-style', 'italic')

// scattering ratio colour bar
label('a,b : Scattering ratio', 711, 52, 54, 'middle', 447)
const barX = d3.scaleLinear().domain([0, 20]).range([317, 1100])
const barGradient = defs.append('linearGradient').attr('id', 'ratio-bar')
barGradient.selectAll('stop')
  .data(ratioStops)
  .join('stop')
  .attr('offset', d => d / 20)
  .attr('stop-color', d => ratioColor(d))
svg.append('rect')
  .attr('x', barX(0)).attr('y', 70)
  .attr('width', barX(20) - barX(0)).attr('height', 24)
  .attr('fill', 'url(#ratio-bar)')
// tick labels are spaced unevenly in the source
const barLabelX = d3.scaleLinear().domain(ratioTicks).range([328, 495, 690, 884, 1076])
svg.append('g').selectAll('text')
  .data(ratioTicks)
  .join('text')
  .attr('x', d => barLabelX(d))
  .attr('y', 132)
  .attr('font-size', 50)
  .attr('text-anchor', 'middle')
  .text(d => d)

// detection legend
label('c,d : Cloud detection', 1752, 52, 54, 'middle', 460)
const legendX = d3.scaleBand().domain(detectionLabels).range([1366, 2149])
svg.append('g').selectAll('rect')
  .data(detectionLabels)
  .join('rect')
  .attr('x', d => legendX(d))
  .attr('y', 70)
  .attr('width', legendX.bandwidth() + 0.5)
  .attr('height', 24)
  .attr('fill', (d, i) => detectionColors[i])
const legendFit = [152, 123, 147, 80]
const legendCentre = [1450, 1656, 1859, 2063]
detectionLabels.forEach((d, i) => label(d, legendCentre[i], 130, 42, 'middle', legendFit[i]))

// altitude axes, labels do not line up evenly with the rows in the source
const altY = [
  d3.scaleLinear().domain([16, 15, 14]).range([195, 457, 683]),
  d3.scaleLinear().domain([16, 15, 14]).range([733, 997, 1221])
]
altY.forEach(scale => {
  svg.append('g').selectAll('text')
    .data(altitudeTicks)
    .join('text')
    .attr('x', 172)
    .attr('y', d => scale(d))
    .attr('font-size', 52)
    .attr('text-anchor', 'end')
    .text(d => d3.format('.1f')(d))
})
label('Altitude [km]', 0, 0, 50, 'middle', 275).attr('transform', 'translate(50,443) rotate(-90)')
label('Altitude [km]', 0, 0, 50, 'middle', 275).attr('transform', 'translate(50,982) rotate(-90)')

// distance axes
const distX = [
  d3.scaleLinear().domain([0, 400]).range([199, 1184]),
  d3.scaleLinear().domain([0, 400]).range([1257, 2252])
]
distX.forEach(scale => {
  svg.append('g').selectAll('text')
    .data(distanceTicks)
    .join('text')
    .attr('x', d => scale(d))
    .attr('y', 1268)
    .attr('font-size', 52)
    .attr('text-anchor', 'middle')
    .text(d => d)
})
label('Along-the-track distance [km]', 705, 1322, 54, 'middle', 669)
label('Along-the-track distance [km]', 1763, 1322, 54, 'middle', 669)
</script>
</body>
</html>
